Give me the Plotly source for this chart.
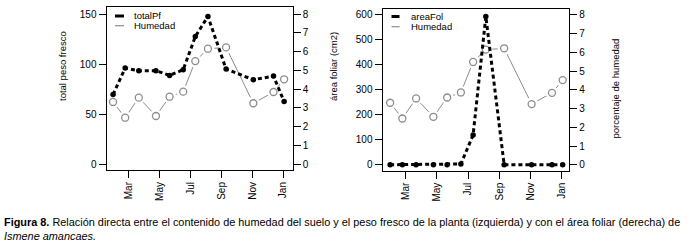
import plotly.graph_objects as go

# ---- data ----
dates = ["2013-01-29", "2013-02-22", "2013-03-21", "2013-04-24", "2013-05-21", "2013-06-17",
         "2013-07-11", "2013-08-05", "2013-09-10", "2013-11-03", "2013-12-13", "2014-01-03"]
totalPf = [69.4, 95.9, 93.3, 93.3, 88.6, 94.3, 127.4, 147.6, 94.9, 84.3, 87.9, 62.4]
areaFol = [0, 0, 0, 0, 0, 3, 119, 594, 0, 0, 0, 0]
humedad = [3.31, 2.47, 3.54, 2.56, 3.59, 3.86, 5.49, 6.15, 6.22, 3.24, 3.84, 4.52]
month_ticks = ["2013-03-01", "2013-05-01", "2013-07-01", "2013-09-01", "2013-11-01", "2014-01-01"]
month_labels = ["Mar", "May", "Jul", "Sep", "Nov", "Jan"]

W, H = 700, 242
GREY = "#8c8c8c"
FONT = "Liberation Sans, Arial, sans-serif"

def px(x):
    return x / W

def py(y):
    return 1 - y / H

fig = go.Figure()

def add_panel(xa, ybase, yover, main_vals, main_name):
    # humedad on base axis (drawn below)
    fig.add_trace(go.Scatter(x=dates, y=humedad, xaxis=xa, yaxis=ybase, mode="lines",
                             line=dict(color=GREY, width=1), showlegend=False, hoverinfo="skip"))
    fig.add_trace(go.Scatter(x=dates, y=humedad, xaxis=xa, yaxis=ybase, mode="markers",
                             marker=dict(size=13, color="white", line=dict(width=0)),
                             showlegend=False, hoverinfo="skip"))
    fig.add_trace(go.Scatter(x=dates, y=humedad, xaxis=xa, yaxis=ybase, mode="markers",
                             marker=dict(size=7, color="white", symbol="circle",
                                         line=dict(color=GREY, width=1.3)),
                             name="Humedad", showlegend=False))
    # main series on overlaying axis (drawn on top)
    fig.add_trace(go.Scatter(x=dates, y=main_vals, xaxis=xa, yaxis=yover, mode="lines+markers",
                             line=dict(color="black", width=3, dash="4px,3px"),
                             marker=dict(size=5.5, color="black"),
                             name=main_name, showlegend=False))

add_panel("x", "y2", "y", totalPf, "totalPf")
add_panel("x2", "y4", "y3", areaFol, "areaFol")

axis_common = dict(showline=True, linecolor="black", linewidth=1, ticks="outside",
                   ticklen=7, tickcolor="black", tickwidth=1, showgrid=False, zeroline=False,
                   tickfont=dict(family=FONT, size=10, color="black"))

xcommon = dict(axis_common, type="date", tickvals=month_ticks, ticktext=month_labels,
               tickangle=-90, mirror=True)

fig.update_layout(
    width=W, height=H,
    margin=dict(l=0, r=0, t=0, b=0),
    paper_bgcolor="white", plot_bgcolor="white",
    showlegend=False,
    xaxis=dict(xcommon, domain=[px(106.5), px(292.7)], anchor="y2",
               range=["2013-01-16", "2014-01-20"]),
    yaxis2=dict(axis_common, domain=[py(170), py(7.3)], side="right", anchor="x",
                range=[-0.32, 8.36], tickvals=list(range(0, 9)), mirror=True),
    yaxis=dict(axis_common, overlaying="y2", side="left", anchor="x",
               range=[-6, 156.7], tickvals=[0, 50, 100, 150]),
    xaxis2=dict(xcommon, domain=[px(382.5), px(569.3)], anchor="y4",
                range=["2013-01-14", "2014-01-16"]),
    yaxis4=dict(axis_common, domain=[py(170.7), py(9)], side="right", anchor="x2",
                range=[-0.32, 8.32], tickvals=list(range(0, 9)), mirror=True),
    yaxis3=dict(axis_common, overlaying="y4", side="left", anchor="x2",
                range=[-24, 624], tickvals=[0, 100, 200, 300, 400, 500, 600]),
)

ann = []
def txt(x, y, s, size=10, angle=0, xanchor="center", yanchor="middle", family=FONT):
    ann.append(dict(x=px(x), y=py(y), xref="paper", yref="paper", text=s, showarrow=False,
                    textangle=angle, xanchor=xanchor, yanchor=yanchor,
                    font=dict(family=family, size=size, color="black")))

txt(62, 66, "total peso fresco", size=9.5, angle=-90)
txt(333, 67, "área foliar (cm2)", size=9.5, angle=-90)
txt(615, 88.5, "porcentaje de humedad", size=9.5, angle=-90)

# legends
txt(132, 15.5, "totalPf", size=9.5, xanchor="left")
txt(132, 26, "Humedad", size=9.5, xanchor="left")
txt(409, 16, "areaFol", size=9.5, xanchor="left")
txt(409, 27, "Humedad", size=9.5, xanchor="left")

shapes = []
def key(x0, x1, y, color, width):
    shapes.append(dict(type="line", xref="paper", yref="paper", x0=px(x0), x1=px(x1),
                       y0=py(y), y1=py(y), line=dict(color=color, width=width)))
key(115, 124, 16, "black", 3)
key(115, 124, 25.7, GREY, 1.2)
key(391.5, 399.5, 16.5, "black", 3)
key(391.5, 399.5, 26.7, GREY, 1.2)

CAP = "Liberation Sans Narrow, Arial Narrow, Liberation Sans, sans-serif"
txt(2, 222, "<b>Figura 8.</b> Relación directa entre el contenido de humedad del suelo y el peso fresco de la planta (izquierda) y con el área foliar (derecha) de",
    size=10.9, xanchor="left", family=CAP)
txt(2, 235.5, "<i>Ismene amancaes.</i>", size=10.9, xanchor="left", family=CAP)

fig.update_layout(annotations=ann, shapes=shapes)
fig.write_html("out.html", config={"displayModeBar": False},
               post_script="document.body.style.margin='0';document.body.style.overflow='hidden';")
